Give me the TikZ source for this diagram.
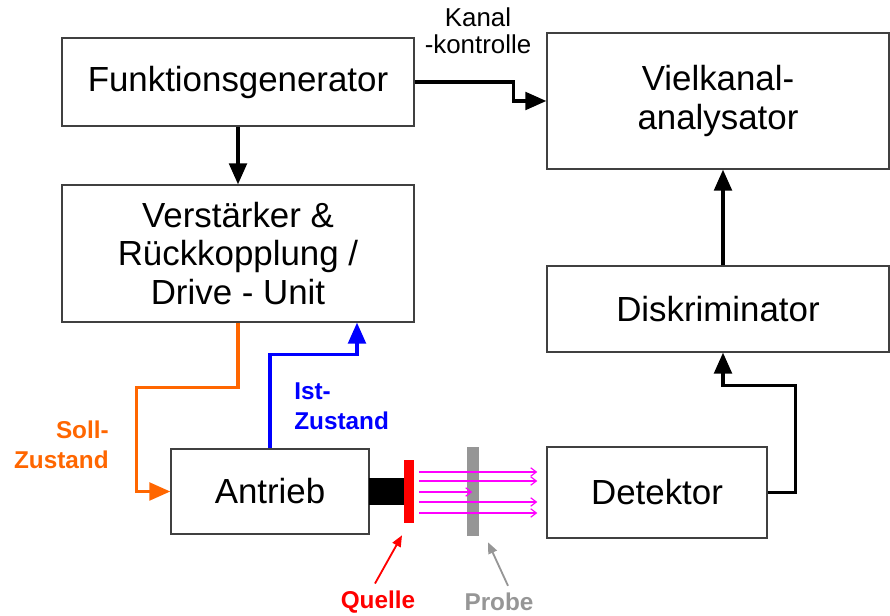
\documentclass[tikz,border=0pt]{standalone}
\usepackage{fontspec}
\setmainfont{Liberation Sans}
\usepackage{xcolor}
\usepackage{tikz}
\usetikzlibrary{positioning,calc,arrows.meta}
\definecolor{SollOrange}{RGB}{255,102,0}
\definecolor{IstBlue}{RGB}{0,0,255}
\definecolor{ProbeGray}{RGB}{150,150,150}
\definecolor{RayMagenta}{RGB}{255,0,255}
\tikzset{
    blockbox/.style={rectangle, draw=black!75, line width=0.8pt, fill=white, align=center, inner sep=0pt, font=\fontsize{24.8}{27.6}\selectfont},
    sigarrow/.style={line width=2.6pt, -{Triangle[length=15pt, width=12.5pt]}},
    ray/.style={draw=RayMagenta, line width=0.8pt, -{Straight Barb[length=4pt, width=6pt]}}
}

\begin{document}
\begin{tikzpicture}[
        x=0.025cm, y=-0.025cm,
        % --- STYLE ---
        label_text/.style={
            inner sep=0pt,
            font=\fontsize{17.3}{21}\selectfont\bfseries
        },
        small_text/.style={
            inner sep=0pt,
            align=center,
            font=\fontsize{18.4}{19}\selectfont
        },
        pointer/.style={
            line width=1.3pt,
            -{Triangle[length=8pt, width=6.5pt]}
        }
    ]
    \useasboundingbox (0,0) rectangle (890,616);

    % --- KÄSTEN ---
    \node[blockbox, minimum width=8.8cm, minimum height=2.2cm] (fgen) at (238,82) {Funktionsgenerator};
    \node[blockbox, minimum width=8.8cm, minimum height=3.425cm] (verst) at (238,253.5) {Verstärker \&\\Rückkopplung /\\Drive - Unit};
    \node[blockbox, minimum width=8.55cm, minimum height=3.4cm] (vka) at (718,101) {Vielkanal-\\analysator};
    \node[blockbox, minimum width=8.55cm, minimum height=2.15cm] (disk) at (718,309) {Diskriminator};
    \node[blockbox, minimum width=4.95cm, minimum height=2.125cm] (antrieb) at (270,491.5) {Antrieb};
    \node[blockbox, minimum width=5.5cm, minimum height=2.275cm] (detektor) at (657,492.5) {Detektor};

    % --- STAB, QUELLE, PROBE ---
    \node[fill=black, inner sep=0pt, minimum width=0.875cm, minimum height=0.675cm] (stab) at (386.5,491.5) {};
    \node[fill=red, inner sep=0pt, minimum width=0.25cm, minimum height=1.575cm] (quelle) at (409,491.5) {};
    \node[fill=ProbeGray, inner sep=0pt, minimum width=0.3cm, minimum height=2.225cm] (probe) at (473,491.5) {};

    % Strahlen
    \foreach \dy in {-19.5,-10.5,10.5,21.5}
        \draw[ray] ($(quelle.east)+(5,\dy)$) -- ++(118,0);
    \draw[ray] ($(quelle.east)+(5,0.5)$) -- ++(53,0);

    % --- PFEILE ---
    \draw[sigarrow] (fgen) -- (verst);
    \draw[sigarrow] (fgen.east) -- ++(99,0) |- (vka.west);
    \draw[sigarrow] ($(disk.north)+(5,0)$) -- ($(vka.south)+(5,0)$);
    \draw[sigarrow] (detektor.east) -- ++(28,0) |- ($(disk.south)+(5,33)$) -- ($(disk.south)+(5,0)$);
    \draw[sigarrow, SollOrange] (verst.south) -- ++(0,65) -| ($(antrieb.west)+(-34,0)$) -- (antrieb.west);
    \draw[sigarrow, IstBlue] (antrieb.north) -- ++(0,-94) -| ($(verst.south)+(119,0)$);

    % --- BESCHRIFTUNGEN ---
    \node[small_text] (kanal) at (478,31) {Kanal\\-kontrolle};
    \node[label_text, text=SollOrange, align=right, anchor=east] (soll) at (109,445) {Soll-\\Zustand};
    \node[label_text, text=IstBlue, align=left, anchor=west] (ist) at (294,406) {Ist-\\Zustand};
    \node[label_text, text=red] (lquelle) at (378,602) {Quelle};
    \node[label_text, text=ProbeGray] (lprobe) at (499,602) {Probe};

    \draw[pointer, red] ($(lquelle.north)+(-3,-7)$) -- ($(quelle.south)+(-7,12)$);
    \draw[pointer, ProbeGray] ($(lprobe.north)+(9,-7)$) -- ($(probe.south)+(15,6)$);

\end{tikzpicture}
\end{document}
